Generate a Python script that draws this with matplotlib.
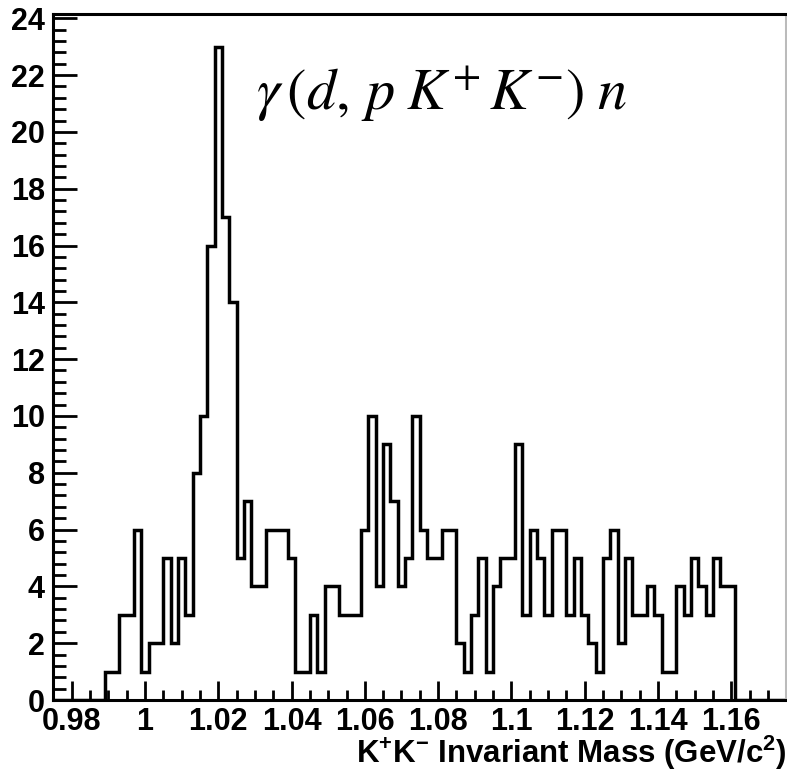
import numpy as np
import matplotlib
matplotlib.use('Agg')
import matplotlib.pyplot as plt
from matplotlib.ticker import MultipleLocator

# histogram: 100 bins of 2 MeV between 0.975 and 1.175 GeV
bin_lo = 0.975
bin_hi = 1.175
n_bins = 100
counts = [0, 0, 0, 0, 0, 0, 0,
          1, 1, 3, 3, 6, 1, 2, 2, 5, 2,
          5, 3, 8, 10, 16, 23, 17, 14, 5, 7,
          4, 4, 6, 6, 6, 5, 1, 1, 3, 1,
          4, 4, 3, 3, 3, 6, 10, 4, 9, 7,
          4, 5, 10, 6, 5, 5, 6, 6, 2, 1,
          3, 5, 1, 4, 5, 5, 9, 3, 6, 5,
          3, 6, 6, 3, 5, 3, 2, 1, 5, 6,
          2, 5, 3, 3, 4, 3, 1, 1, 4, 3,
          5, 4, 3, 5, 4, 4,
          0, 0, 0, 0, 0, 0, 0]

xticks = [0.98, 1.00, 1.02, 1.04, 1.06, 1.08, 1.10, 1.12, 1.14, 1.16]
xtick_labels = ["0.98", "1", "1.02", "1.04", "1.06", "1.08", "1.1", "1.12", "1.14", "1.16"]
yticks = [0, 2, 4, 6, 8, 10, 12, 14, 16, 18, 20, 22, 24]

plt.rcParams['font.family'] = ['Liberation Sans', 'DejaVu Sans']
plt.rcParams['mathtext.fontset'] = 'custom'
plt.rcParams['mathtext.rm'] = 'Liberation Sans:bold'
plt.rcParams['mathtext.it'] = 'Liberation Sans:bold'
plt.rcParams['mathtext.bf'] = 'Liberation Sans:bold'

fig = plt.figure(figsize=(7.87, 7.75), dpi=100)
ax = fig.add_axes([53.3 / 787, 1 - 700 / 775, 733 / 787, 686 / 775])

edges = np.linspace(bin_lo, bin_hi, n_bins + 1)
ax.stairs(counts, edges, color='black', linewidth=2.5)

ax.set_xlim(bin_lo, bin_hi)
ax.set_ylim(0, 24.15)
ax.set_xticks(xticks)
ax.set_xticklabels(xtick_labels)
ax.set_yticks(yticks)
ax.xaxis.set_minor_locator(MultipleLocator(0.005))
ax.yaxis.set_minor_locator(MultipleLocator(0.4))

ax.tick_params(axis='both', which='both', direction='in', top=False, right=False,
               width=2, labelsize=22)
ax.tick_params(axis='y', which='major', length=17, pad=6)
ax.tick_params(axis='y', which='minor', length=9)
ax.tick_params(axis='x', which='major', length=14, pad=5)
ax.tick_params(axis='x', which='minor', length=7)
for lab in ax.get_xticklabels() + ax.get_yticklabels():
    lab.set_fontweight('bold')
for sp in ax.spines.values():
    sp.set_linewidth(2.2)
ax.spines['right'].set_color('#bbbbbb')

ax.set_xlabel(r'K$^{+}$K$^{-}$ Invariant Mass (GeV/c$^{2}$)', fontsize=22.5,
              fontweight='bold', loc='right', labelpad=-2)

ax.text(0.276, 0.86, r'$\gamma\,(d,\,p\;K^{+}\,K^{\mathrm{-}})\;n$', transform=ax.transAxes,
        fontsize=42, math_fontfamily='stix', ha='left', va='baseline')

fig.savefig('out.png', dpi=100)
